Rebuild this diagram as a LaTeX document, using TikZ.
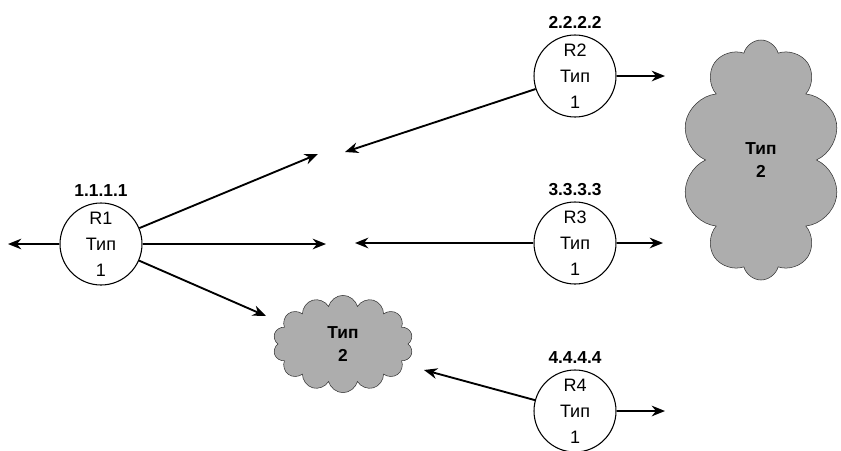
\documentclass[tikz,border=0pt]{standalone}
\usepackage{fontspec}
\setmainfont{Liberation Sans}
\usepackage{xcolor}
\usetikzlibrary{arrows.meta,positioning,shapes.symbols}
\definecolor{netgray}{HTML}{ADADAD}

\begin{document}
\begin{tikzpicture}[x=0.75pt,y=-0.75pt,>={Stealth[length=10pt,width=8pt]},font=\fontsize{13.5}{19.5}\selectfont]

\tikzset{
router/.style={
    draw=black,
    thick,
    circle,
    fill=white,
    minimum size=61.5pt,
    inner sep=0pt,
    align=center
},
net/.style={
    draw=black!80,
    cloud,
    cloud puffs=10,
    cloud ignores aspect,
    fill=netgray,
    inner sep=0pt,
    align=center,
    font=\fontsize{13}{17}\selectfont\bfseries
},
rid/.style={font=\fontsize{13}{15}\selectfont\bfseries},
arr/.style={->,line width=1.4pt}
}

\useasboundingbox (0,0) rectangle (841,450);

\node[router] (r1) at (101,244) {R1\\Тип\\1};
\node[router] (r2) at (575,76) {R2\\Тип\\1};
\node[router] (r3) at (575,243) {R3\\Тип\\1};
\node[router] (r4) at (575,411) {R4\\Тип\\1};

\node[rid, above=1pt of r1] (ip1) {1.1.1.1};
\node[rid, above=1pt of r2] (ip2) {2.2.2.2};
\node[rid, above=1pt of r3] (ip3) {3.3.3.3};
\node[rid, above=1pt of r4] (ip4) {4.4.4.4};

\node[net, cloud puffs=14, minimum width=105pt, minimum height=73pt] (small) at (343,344) {Тип\\2};
\node[net, minimum width=119pt, minimum height=180pt] (big) at (761,160) {Тип\\2};

\coordinate (r1w) at (8,244);
\coordinate (r1e) at (326,244);
\coordinate (r1n) at (318,154);
\coordinate (r2s) at (345,152);
\coordinate (r2e) at (665,76);
\coordinate (r3w) at (355,243);
\coordinate (r3e) at (663,243);
\coordinate (r4e) at (665,411);
\coordinate (r4w) at (424,370);
\coordinate (r1s) at (266,316);

\draw[arr] (r1) -- (r1w);
\draw[arr] (r1) -- (r1e);
\draw[arr] (r1) -- (r1n);
\draw[arr] (r1) -- (r1s);
\draw[arr] (r2) -- (r2s);
\draw[arr] (r2) -- (r2e);
\draw[arr] (r3) -- (r3w);
\draw[arr] (r3) -- (r3e);
\draw[arr] (r4) -- (r4w);
\draw[arr] (r4) -- (r4e);

\end{tikzpicture}
\end{document}
